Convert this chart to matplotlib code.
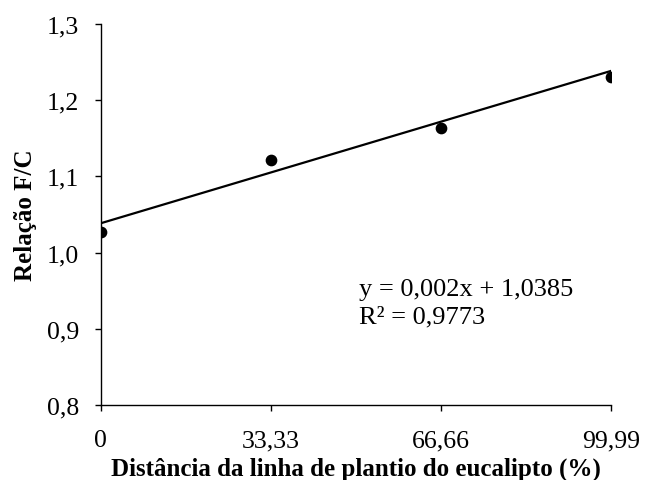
import numpy as np
import matplotlib
matplotlib.use("Agg")
import matplotlib.pyplot as plt

# Distance from the eucalyptus planting row (%) and the F/C ratio measured there
distance = [0, 33.33, 66.66, 99.99]
ratio_fc = [1.027, 1.122, 1.164, 1.231]

# Linear trend reported for the series
slope = 0.002
intercept = 1.0385
r_squared = 0.9773

x_ticks = [0, 33.33, 66.66, 99.99]
x_ticklabels = ["0", "33,33", "66,66", "99,99"]
y_ticks = [0.8, 0.9, 1.0, 1.1, 1.2, 1.3]
y_ticklabels = ["0,8", "0,9", "1,0", "1,1", "1,2", "1,3"]

plt.rcParams["font.family"] = ["Liberation Serif", "DejaVu Serif"]

fig = plt.figure(figsize=(6.46, 4.81), dpi=100)
ax = fig.add_axes([0.156, 0.156, 0.79, 0.792])

ax.scatter(distance, ratio_fc, s=55, color="black", zorder=3)
xs = np.array([distance[0], distance[-1]])
ax.plot(xs, slope * xs + intercept, color="black", lw=1.6, zorder=2)

ax.set_xlim(0, 99.99)
ax.set_ylim(0.8, 1.3)
ax.set_xticks(x_ticks)
ax.set_xticklabels(x_ticklabels)
ax.set_yticks(y_ticks)
ax.set_yticklabels(y_ticklabels)

for side in ("top", "right"):
    ax.spines[side].set_visible(False)
for side in ("left", "bottom"):
    ax.spines[side].set_linewidth(1.0)
ax.tick_params(axis="both", direction="out", length=4.5, width=1.0,
               labelsize=18.5, colors="black")
ax.tick_params(axis="x", pad=13)
ax.tick_params(axis="y", pad=11)

ax.set_xlabel("Distância da linha de plantio do eucalipto (%)",
              fontsize=18, fontweight="bold", labelpad=3.5)
ax.set_ylabel("Relação F/C", fontsize=18, fontweight="bold", labelpad=7)

eq = f"y = {slope:.3f}x + {intercept:.4f}".replace(".", ",")
r2 = f"R² = {r_squared:.4f}".replace(".", ",")
ax.text(50.6, 0.952, eq, fontsize=19, ha="left", va="center")
ax.text(50.6, 0.916, r2, fontsize=19, ha="left", va="center")

fig.savefig("out.png", dpi=100)
